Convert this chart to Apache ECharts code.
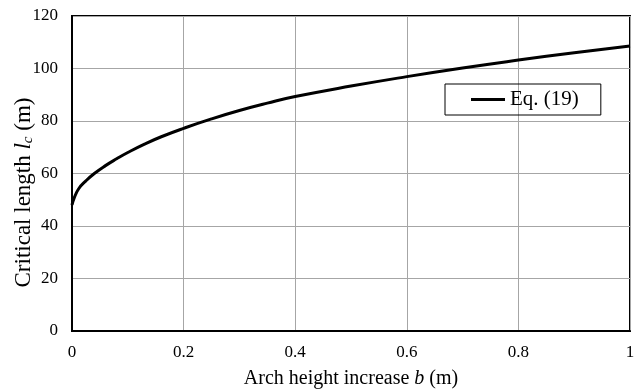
<!DOCTYPE html>
<html>
<head>
<meta charset="UTF-8">
<title>Critical length</title>
<script src="https://cdn.jsdelivr.net/npm/echarts@6/dist/echarts.min.js"></script>
</head>
<body style="margin:0">
    <div id="main" style="width: 637px; height: 391px;"></div>
    <script>
        // values
        var archHeight = [0, 0.004, 0.012, 0.025, 0.04, 0.06, 0.08, 0.1, 0.13, 0.16, 0.2, 0.25, 0.3, 0.35, 0.4, 0.5, 0.6, 0.7, 0.8, 0.9, 1.0];
        var criticalLength = [48, 50.7, 54.2, 57.2, 60, 63, 65.6, 68, 71.2, 74, 77.2, 80.8, 84, 86.8, 89.3, 93.3, 96.9, 100.2, 103.2, 106, 108.6];
        var xTicks = [0, 0.2, 0.4, 0.6, 0.8, 1];
        var yTicks = [0, 20, 40, 60, 80, 100, 120];

        var pts = archHeight.map(function (b, i) { return [b, criticalLength[i]]; });
        var font = 'Liberation Serif';

        var myChart = echarts.init(document.getElementById("main"));

        var option = {
            backgroundColor: '#fff',
            textStyle: { fontFamily: font, color: '#000' },
            grid: {
                left: 72, right: 7, top: 16, bottom: 60,
                outerBoundsMode: 'none', containLabel: false,
                show: true, borderColor: '#000', borderWidth: 2
            },
            legend: {
                left: 445, top: 84,
                padding: [5, 22, 5, 26],
                borderColor: '#000', borderWidth: 1,
                icon: 'rect', itemWidth: 34, itemHeight: 3,
                textStyle: { fontFamily: font, fontSize: 21, color: '#000' },
                data: ['Eq. (19)']
            },
            xAxis: {
                type: 'value',
                min: xTicks[0], max: xTicks[xTicks.length - 1], interval: 0.2,
                name: 'Arch height increase {i|b} (m)',
                nameLocation: 'middle', nameGap: 38,
                nameTextStyle: {
                    fontFamily: font, fontSize: 20, color: '#000',
                    rich: { i: { fontFamily: font, fontSize: 20, fontStyle: 'italic', color: '#000' } }
                },
                axisLine: { lineStyle: { color: '#000', width: 2 } },
                axisTick: { show: false },
                axisLabel: { fontFamily: font, fontSize: 17, color: '#000', margin: 13 },
                splitLine: { lineStyle: { color: '#a6a6a6', width: 1 } }
            },
            yAxis: {
                type: 'value',
                min: yTicks[0], max: yTicks[yTicks.length - 1], interval: 20,
                name: 'Critical length {i|l}{s|c} (m)',
                nameLocation: 'middle', nameGap: 36, nameRotate: 90,
                nameMoveOverlap: false,
                nameTextStyle: {
                    fontFamily: font, fontSize: 23, color: '#000',
                    padding: [0, 38, 0, 0],
                    rich: {
                        i: { fontFamily: font, fontSize: 23, fontStyle: 'italic', color: '#000' },
                        s: { fontFamily: font, fontSize: 15, fontStyle: 'italic', color: '#000', padding: [10, 0, 0, 0] }
                    }
                },
                axisLine: { lineStyle: { color: '#000', width: 2 } },
                axisTick: { show: false },
                axisLabel: { fontFamily: font, fontSize: 17, color: '#000', margin: 14 },
                splitLine: { lineStyle: { color: '#a6a6a6', width: 1 } }
            },
            series: [{
                name: 'Eq. (19)',
                type: 'line',
                data: pts,
                smooth: true,
                symbol: 'none',
                itemStyle: { color: '#000' },
                lineStyle: { color: '#000', width: 3 }
            }]
        };

        myChart.setOption(option);
    </script>
</body>
</html>
